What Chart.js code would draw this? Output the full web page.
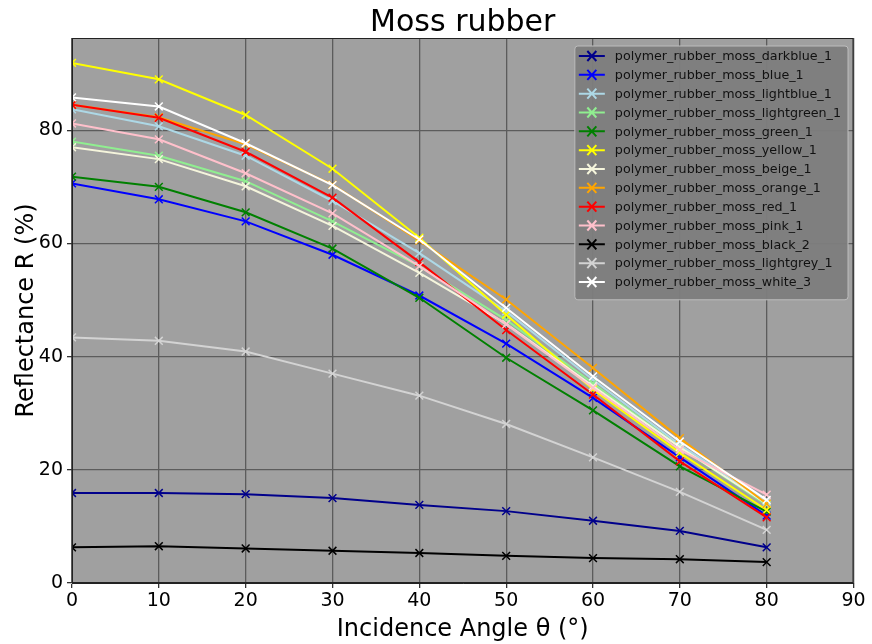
<!DOCTYPE html>
<html lang="en">
<head>
  <meta charset="UTF-8">
  <title>Moss rubber</title>
  <script src="https://cdn.jsdelivr.net/npm/chart.js@4.4.0/dist/chart.umd.min.js"></script>
  <style>
    body { margin:0; background:#fff; }
    #wrap { width:872px; height:644px; }
  </style>
</head>
<body>
<div id="wrap"><canvas id="chart" width="872" height="644"></canvas></div>

<script>
  // angles of incidence (deg)
  const angles = [0, 10, 20, 30, 40, 50, 60, 70, 80];

  // reflectance values (%)
  const darkblue   = [15.9, 15.9, 15.7, 15.0, 13.8, 12.7, 11.0,  9.2,  6.3];
  const blue       = [70.6, 67.8, 63.9, 58.0, 50.8, 42.3, 32.7, 22.2, 11.9];
  const lightblue  = [83.7, 80.7, 75.5, 67.5, 58.3, 48.0, 35.9, 24.4, 14.4];
  const lightgreen = [78.0, 75.5, 71.0, 63.9, 56.0, 46.5, 35.3, 24.0, 13.8];
  const green      = [71.8, 70.0, 65.5, 59.1, 50.4, 39.8, 30.5, 20.6, 12.6];
  const yellow     = [91.9, 89.0, 82.7, 73.2, 61.0, 47.4, 34.2, 23.0, 12.9];
  const beige      = [77.0, 74.9, 70.1, 63.1, 54.8, 45.8, 34.8, 24.0, 14.0];
  const orange     = [84.5, 82.3, 77.5, 70.4, 60.5, 50.1, 38.0, 25.6, 14.0];
  const red        = [84.5, 82.2, 76.2, 68.1, 56.7, 44.7, 33.3, 21.5, 11.6];
  const pink       = [81.2, 78.4, 72.4, 65.3, 56.0, 45.7, 34.5, 23.5, 15.6];
  const black      = [ 6.3,  6.5,  6.1,  5.7,  5.3,  4.8,  4.4,  4.2,  3.7];
  const lightgrey  = [43.4, 42.8, 40.9, 37.0, 33.1, 28.1, 22.2, 16.1,  9.4];
  const white      = [85.8, 84.2, 77.7, 70.3, 60.7, 48.6, 36.5, 25.0, 14.7];

  const seriesNames = [
    'polymer_rubber_moss_darkblue_1', 'polymer_rubber_moss_blue_1',
    'polymer_rubber_moss_lightblue_1', 'polymer_rubber_moss_lightgreen_1',
    'polymer_rubber_moss_green_1', 'polymer_rubber_moss_yellow_1',
    'polymer_rubber_moss_beige_1', 'polymer_rubber_moss_orange_1',
    'polymer_rubber_moss_red_1', 'polymer_rubber_moss_pink_1',
    'polymer_rubber_moss_black_2', 'polymer_rubber_moss_lightgrey_1',
    'polymer_rubber_moss_white_3'
  ];
  const seriesValues = [darkblue, blue, lightblue, lightgreen, green, yellow,
                        beige, orange, red, pink, black, lightgrey, white];
  const seriesColors = ['#00008b', '#0000ff', '#add8e6', '#90ee90', '#008000', '#ffff00',
                        '#f5f5dc', '#ffa500', '#ff0000', '#ffc0cb', '#000000', '#d3d3d3', '#ffffff'];

  const xTicks = [0, 10, 20, 30, 40, 50, 60, 70, 80, 90];
  const yTicks = [0, 20, 40, 60, 80];

  Chart.defaults.font.family = "'DejaVu Sans', sans-serif";
  Chart.defaults.color = '#000';

  // plot background, frame, title and the boxed legend (matplotlib look)
  const decor = {
    id: 'decor',
    beforeDraw(chart){
      const { ctx, chartArea:a } = chart;
      ctx.save();
      ctx.fillStyle = '#a0a0a0';
      ctx.fillRect(a.left, a.top, a.right - a.left, a.bottom - a.top);
      ctx.restore();
    },
    afterDraw(chart){
      const { ctx, chartArea:a } = chart;
      ctx.save();
      ctx.strokeStyle = '#222';
      ctx.lineWidth = 1;
      ctx.strokeRect(a.left + 0.5, a.top + 0.5, a.right - a.left - 1, a.bottom - a.top - 1);

      // title
      ctx.fillStyle = '#000';
      ctx.font = "30px 'DejaVu Sans'";
      ctx.textAlign = 'center';
      ctx.textBaseline = 'alphabetic';
      ctx.fillText('Moss rubber', (a.left + a.right) / 2, 31);

      // legend
      ctx.font = "12.7px 'DejaVu Sans'";
      const sets = chart.data.datasets;
      let maxW = 0;
      sets.forEach(d => { maxW = Math.max(maxW, ctx.measureText(d.label).width); });
      const rowH = 18.83;
      const w = maxW + 47;
      const h = rowH * sets.length + 9;
      const x0 = a.right - 5.5 - w, y0 = a.top + 8;
      ctx.beginPath();
      ctx.roundRect(x0, y0, w, h, 3);
      ctx.fillStyle = 'rgba(125,125,125,0.95)';
      ctx.fill();
      ctx.strokeStyle = '#bdbdbd';
      ctx.lineWidth = 1;
      ctx.stroke();
      ctx.textAlign = 'left';
      ctx.textBaseline = 'middle';
      sets.forEach((d, i) => {
        const cy = y0 + 10 + rowH * i;
        ctx.strokeStyle = d.borderColor;
        ctx.lineWidth = 2;
        ctx.beginPath();
        ctx.moveTo(x0 + 4, cy); ctx.lineTo(x0 + 30, cy);
        ctx.moveTo(x0 + 12.5, cy - 5); ctx.lineTo(x0 + 21.5, cy + 5);
        ctx.moveTo(x0 + 12.5, cy + 5); ctx.lineTo(x0 + 21.5, cy - 5);
        ctx.stroke();
        ctx.fillStyle = '#111';
        ctx.fillText(d.label, x0 + 40, cy + 1);
      });
      ctx.restore();
    }
  };

  const datasets = seriesNames.map((name, i) => ({
    label: name,
    data: angles.map((a, k) => ({ x: a, y: seriesValues[i][k] })),
    borderColor: seriesColors[i],
    backgroundColor: seriesColors[i],
    borderWidth: 2,
    pointStyle: 'crossRot',
    pointRadius: 5.5,
    pointBorderWidth: 1.5,
    pointBorderColor: seriesColors[i],
    tension: 0,
    fill: false,
    order: seriesNames.length - i
  }));

  new Chart(document.getElementById('chart'), {
    type: 'line',
    data: { datasets },
    plugins: [decor],
    options: {
      responsive: false,
      animation: false,
      devicePixelRatio: 1,
      layout: { padding: { top: 38, right: 18.5, left: 0, bottom: 0 } },
      plugins: {
        legend: { display: false },
        title: { display: false },
        tooltip: { enabled: false }
      },
      scales: {
        x: {
          type: 'linear',
          min: 0, max: 90,
          afterFit: s => { s.height = 61; },
          afterBuildTicks: s => { s.ticks = xTicks.map(v => ({ value: v })); },
          ticks: { font: { size: 19 }, padding: 2, maxRotation: 0 },
          grid: { color: '#5c5c5c', lineWidth: 1.3, tickLength: 5, tickColor: '#333' },
          border: { display: true, color: '#222' },
          title: {
            display: true, text: 'Incidence Angle θ (°)',
            font: { size: 24 }, padding: { top: 0, bottom: 0 }
          }
        },
        y: {
          min: 0, max: 96.3,
          afterFit: s => { s.width = 72; },
          afterBuildTicks: s => { s.ticks = yTicks.map(v => ({ value: v })); },
          ticks: { font: { size: 19 }, padding: 4 },
          grid: { color: '#5c5c5c', lineWidth: 1.3, tickLength: 5, tickColor: '#333' },
          border: { display: true, color: '#222' },
          title: {
            display: true, text: 'Reflectance R (%)',
            font: { size: 24 }, padding: { top: 12, bottom: 0 }
          }
        }
      }
    }
  });
</script>
</body>
</html>
